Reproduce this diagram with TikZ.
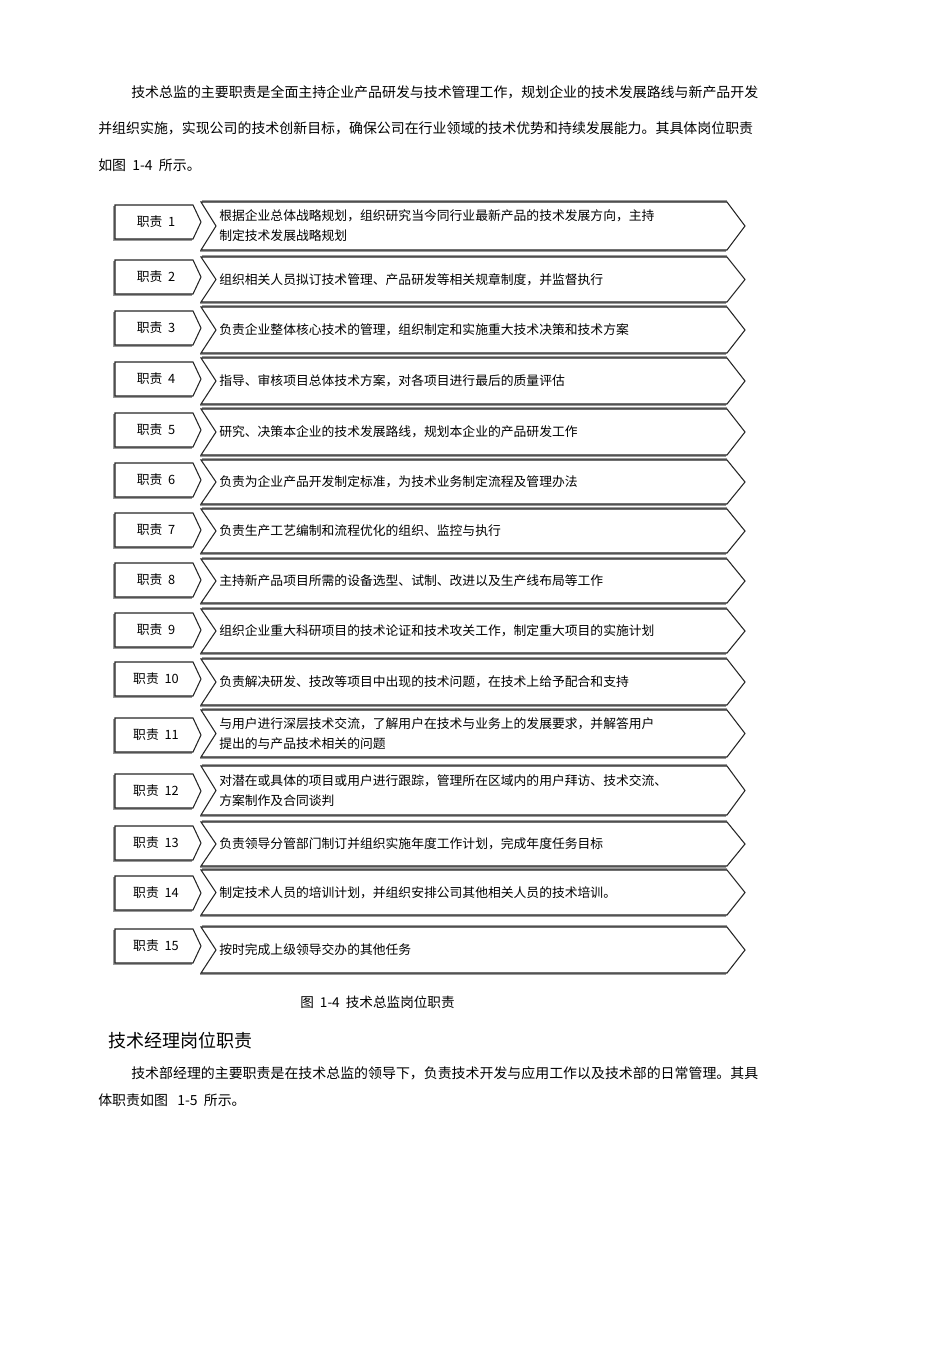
\documentclass[tikz,border=0pt]{standalone}
\usepackage{fontspec}
\setmainfont{Noto Sans CJK SC}
\begin{document}
\begin{tikzpicture}[x=0.75pt,y=-0.75pt,
  body/.style={anchor=west,inner sep=0pt,font=\fontsize{10.45pt}{13pt}\selectfont},
  lbl/.style={inner sep=0pt,font=\fontsize{9.6pt}{11pt}\selectfont},
  duty/.style={anchor=west,inner sep=0pt,align=left,font=\fontsize{9.6pt}{15pt}\selectfont},
  boxline/.style={draw=black!85,line width=0.8pt,fill=white,line join=miter},
  shadowline/.style={draw=black!40,line width=1pt}]
\useasboundingbox (0,0) rectangle (950,1345);
% intro paragraph
\node[body] (p1) at (131,92) {技术总监的主要职责是全面主持企业产品研发与技术管理工作，规划企业的技术发展路线与新产品开发};
\node[body] (p2) at (98,128) {并组织实施，实现公司的技术创新目标，确保公司在行业领域的技术优势和持续发展能力。其具体岗位职责};
\node[body] (p3) at (98,165) {如图\ \ 1-4\ \ 所示。};
% rows
\foreach \n/\yl/\yc/\h/\t in {
  1/222/226/24/{根据企业总体战略规划，组织研究当今同行业最新产品的技术发展方向，主持\\制定技术发展战略规划},
  2/277/279.5/22.5/{组织相关人员拟订技术管理、产品研发等相关规章制度，并监督执行},
  3/328/330/23/{负责企业整体核心技术的管理，组织制定和实施重大技术决策和技术方案},
  4/379/381/23/{指导、审核项目总体技术方案，对各项目进行最后的质量评估},
  5/430/432/23/{研究、决策本企业的技术发展路线，规划本企业的产品研发工作},
  6/480/482/22/{负责为企业产品开发制定标准，为技术业务制定流程及管理办法},
  7/530/531/22/{负责生产工艺编制和流程优化的组织、监控与执行},
  8/580/581/22/{主持新产品项目所需的设备选型、试制、改进以及生产线布局等工作},
  9/630/631/22/{组织企业重大科研项目的技术论证和技术攻关工作，制定重大项目的实施计划},
  10/679/682/23/{负责解决研发、技改等项目中出现的技术问题，在技术上给予配合和支持},
  11/735/733.5/23.5/{与用户进行深层技术交流，了解用户在技术与业务上的发展要求，并解答用户\\提出的与产品技术相关的问题},
  12/791/790.5/24.5/{对潜在或具体的项目或用户进行跟踪，管理所在区域内的用户拜访、技术交流、\\方案制作及合同谈判},
  13/843/844/22/{负责领导分管部门制订并组织实施年度工作计划，完成年度任务目标},
  14/893/892.5/22.5/{制定技术人员的培训计划，并组织安排公司其他相关人员的技术培训。},
  15/946/950/23/{按时完成上级领导交办的其他任务}}
{
  % left box shadow + outline
  \draw[shadowline] (114,\yl-16) -- (114,\yl+18) -- (192,\yl+18);
  \draw[boxline] (115,\yl-17) -- (193,\yl-17) -- (201,\yl) -- (193,\yl+17) -- (115,\yl+17) -- cycle;
  \node[lbl] (k\n) at (156,\yl) {职责\ \ \n};
  % chevron shadow + outline
  \draw[shadowline] (202,\yc-\h-1) -- (727,\yc-\h-1);
  \draw[shadowline] (200,\yc+\h+1) -- (726,\yc+\h+1);
  \draw[boxline] (201,\yc-\h) -- (727,\yc-\h) -- (745,\yc) -- (727,\yc+\h) -- (201,\yc+\h) -- (216,\yc) -- cycle;
  \node[duty] (d\n) at (219,\yc) {\t};
}
% caption, heading, paragraph
\node[inner sep=0pt,anchor=west,font=\fontsize{10.2pt}{12pt}\selectfont] (cap) at (300,1002) {图\ \ 1-4\ \ 技术总监岗位职责};
\node[inner sep=0pt,anchor=west,font=\fontsize{13.5pt}{16pt}\selectfont] (hd) at (108,1041) {技术经理岗位职责};
\node[body] (q1) at (131,1073) {技术部经理的主要职责是在技术总监的领导下，负责技术开发与应用工作以及技术部的日常管理。其具};
\node[body] (q2) at (98,1100) {体职责如图\ \ \ 1-5\ \ 所示。};
\end{tikzpicture}
\end{document}
